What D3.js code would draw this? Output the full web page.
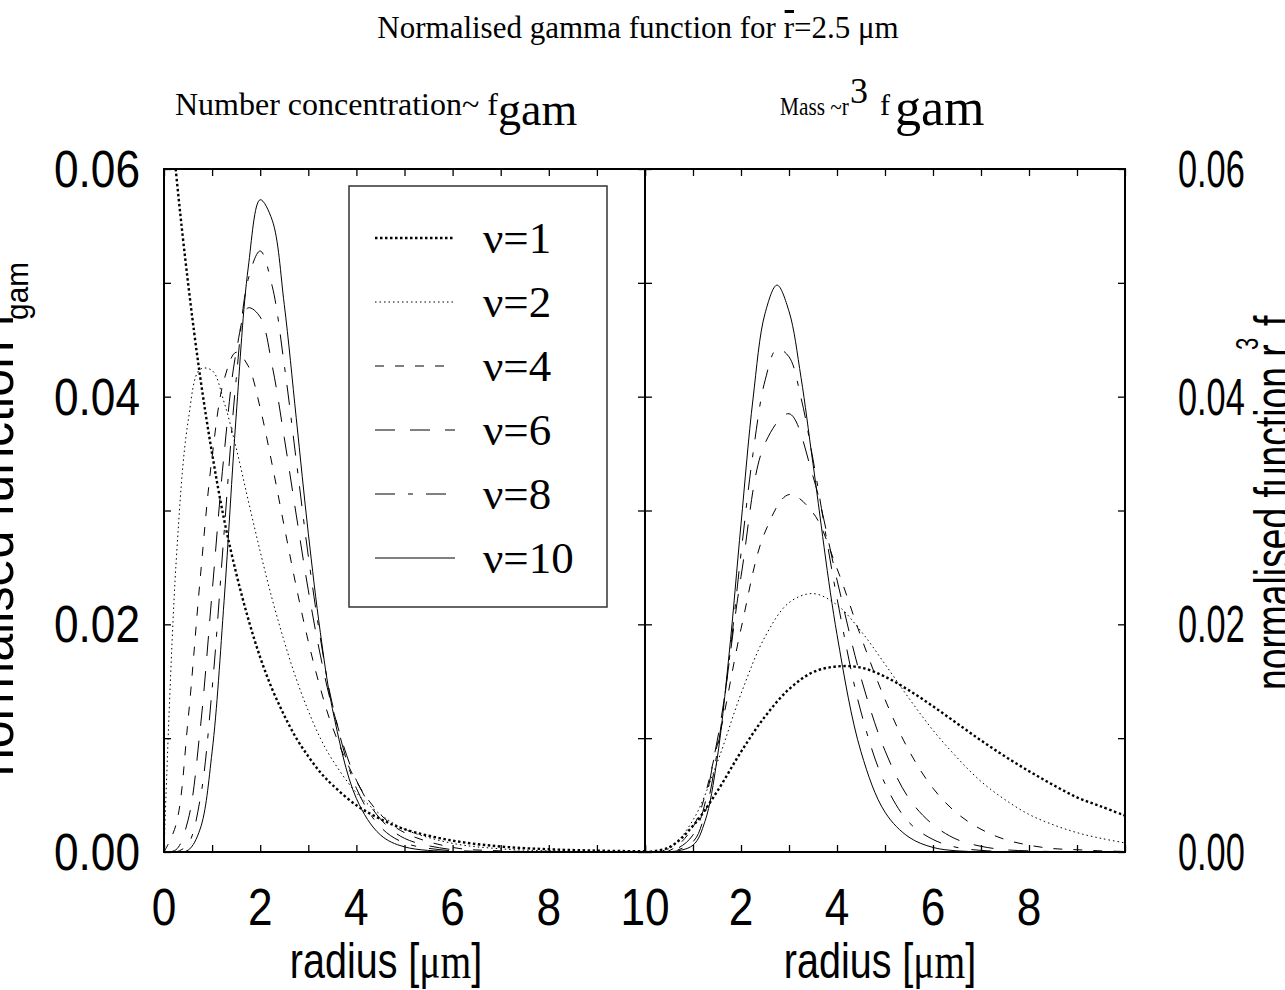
<!DOCTYPE html>
<html>
<head>
<meta charset="utf-8">
<script src="https://cdn.jsdelivr.net/npm/d3@7"></script>
<style>
  body { margin: 0; background: #fff; }
  svg { display: block; }
</style>
</head>
<body>
<div id="chart"></div>
<script>
// values
const nuLabels = ["ν=1", "ν=2", "ν=4", "ν=6", "ν=8", "ν=10"];

const radiusNumber = [0, 0.25, 0.5, 0.75, 1, 1.25, 1.5, 1.75, 2, 2.25, 2.5, 2.75, 3, 3.25, 3.5, 4, 4.5, 5, 6, 7, 8, 9, 10];
const numberNu1 = [0.0714, 0.0597, 0.0500, 0.0418, 0.0350, 0.0292, 0.0245, 0.0205, 0.0171, 0.0143, 0.0120, 0.0100, 0.0084, 0.0070, 0.0059, 0.0041, 0.0029, 0.0020, 0.0010, 0.00048, 0.00024, 0.00012, 0.00006];
const numberNu2 = [0, 0.0253, 0.0378, 0.0424, 0.0423, 0.0395, 0.0355, 0.0309, 0.0264, 0.0222, 0.0185, 0.0152, 0.0124, 0.0100, 0.0081, 0.0052, 0.0033, 0.0020, 0.00076, 0.00028, 0.0001, 0.00003, 0.00001];
const numberNu4 = [0, 0.0024, 0.0116, 0.0239, 0.0347, 0.0415, 0.0439, 0.0427, 0.0390, 0.0340, 0.0286, 0.0233, 0.0185, 0.0144, 0.0110, 0.0062, 0.0033, 0.0017, 0.0004, 0.0001, 0.00002, 0, 0];
const numberNu6 = [0, 0.0002, 0.0028, 0.0107, 0.0228, 0.0350, 0.0439, 0.0478, 0.0470, 0.0427, 0.0364, 0.0296, 0.0230, 0.0173, 0.0127, 0.0063, 0.0029, 0.0012, 0.0002, 0.00003, 0, 0, 0];
const numberNu8 = [0, 0, 0.0007, 0.0046, 0.0143, 0.0281, 0.0415, 0.0503, 0.0528, 0.0497, 0.0428, 0.0344, 0.0260, 0.0188, 0.0130, 0.0056, 0.0022, 0.0008, 0.0001, 0.00001, 0, 0, 0];
const numberNu10 = [0, 0, 0.00015, 0.0020, 0.0088, 0.0221, 0.0383, 0.0513, 0.0573, 0.0555, 0.0481, 0.0381, 0.0280, 0.0193, 0.0126, 0.0047, 0.0015, 0.00045, 0.00003, 0, 0, 0, 0];

const radiusMass = [0, 0.5, 1, 1.5, 2, 2.5, 3, 3.5, 4, 4.5, 5, 5.5, 6, 6.5, 7, 7.5, 8, 8.5, 9, 9.5, 10];
const massNu1 = [0, 0.0004, 0.0023, 0.0053, 0.0088, 0.0119, 0.0143, 0.0158, 0.0163, 0.0162, 0.0154, 0.0142, 0.0128, 0.0113, 0.0098, 0.0084, 0.0071, 0.0059, 0.0048, 0.0040, 0.0032];
const massNu2 = [0, 0.0003, 0.0028, 0.0078, 0.0139, 0.0189, 0.0219, 0.0227, 0.0217, 0.0194, 0.0165, 0.0135, 0.0107, 0.0083, 0.0062, 0.0046, 0.0033, 0.0024, 0.0017, 0.0012, 0.0008];
const massNu4 = [0, 0.0001, 0.0022, 0.0093, 0.0196, 0.0281, 0.0314, 0.0298, 0.0249, 0.0189, 0.0134, 0.0089, 0.0056, 0.0034, 0.0020, 0.0011, 0.0006, 0.0003, 0.0002, 0.0001, 0.00005];
const massNu6 = [0, 0.00002, 0.0015, 0.0097, 0.0242, 0.0359, 0.0385, 0.0330, 0.0239, 0.0153, 0.0089, 0.0047, 0.0024, 0.0011, 0.0005, 0.0002, 0.0001, 0.00004, 0.00002, 0, 0];

const radiusMassFine = [0, 0.5, 1, 1.25, 1.5, 1.75, 2, 2.25, 2.5, 2.75, 3, 3.25, 3.5, 4, 4.5, 5, 5.5, 6, 6.5, 7, 7.5, 8, 9, 10];
const massNu8 = [0, 0, 0.0009, 0.0034, 0.0087, 0.0167, 0.0262, 0.0350, 0.0414, 0.0442, 0.0435, 0.0399, 0.0345, 0.0223, 0.0123, 0.0060, 0.0026, 0.0011, 0.0004, 0.00014, 0.00005, 0.00002, 0, 0];
const massNu10 = [0, 0, 0.0006, 0.0027, 0.0081, 0.0173, 0.0288, 0.0398, 0.0473, 0.0498, 0.0475, 0.0417, 0.0341, 0.0191, 0.0088, 0.0035, 0.0013, 0.0004, 0.0001, 0.00003, 0.00001, 0, 0, 0];

const xTicksLeft = [0, 2, 4, 6, 8, 10];
const xTicksRight = [2, 4, 6, 8];
const yTicks = [0, 0.02, 0.04, 0.06];

// line look for each nu, same order as nuLabels
const lineStyles = [
  { width: 2.4, dash: "2.5,2.5" },
  { width: 1, dash: "1.5,3" },
  { width: 1, dash: "9,11" },
  { width: 1, dash: "20,15" },
  { width: 1, dash: "20,13,5,13" },
  { width: 1, dash: null }
];

const numberSeries = [numberNu1, numberNu2, numberNu4, numberNu6, numberNu8, numberNu10]
  .map(v => v.map((d, i) => [radiusNumber[i], d]));
const massSeries = [
  massNu1.map((d, i) => [radiusMass[i], d]),
  massNu2.map((d, i) => [radiusMass[i], d]),
  massNu4.map((d, i) => [radiusMass[i], d]),
  massNu6.map((d, i) => [radiusMass[i], d]),
  massNu8.map((d, i) => [radiusMassFine[i], d]),
  massNu10.map((d, i) => [radiusMassFine[i], d])
];

const sans = "'Liberation Sans', Arial, sans-serif";
const serif = "'Liberation Serif', 'Times New Roman', serif";
const tickFont = 52;

const width = 1285, height = 990;
const svg = d3.select("#chart").append("svg")
  .attr("width", width)
  .attr("height", height);

const y = d3.scaleLinear().domain([0, 0.06]).range([852, 169]);
const xLeft = d3.scaleLinear().domain([0, 10]).range([164, 645]);
const xRight = d3.scaleLinear().domain([0, 10]).range([645, 1125]);

function drawPanel(x, series, id) {
  svg.append("clipPath").attr("id", id)
    .append("rect")
    .attr("x", x.range()[0]).attr("y", y.range()[1])
    .attr("width", x.range()[1] - x.range()[0])
    .attr("height", y.range()[0] - y.range()[1]);

  const line = d3.line()
    .x(d => x(d[0]))
    .y(d => y(Math.max(0, d[1])))
    .curve(d3.curveCatmullRom.alpha(0.5));

  svg.append("g")
    .attr("clip-path", `url(#${id})`)
    .selectAll("path")
    .data(series)
    .join("path")
    .attr("d", line)
    .attr("fill", "none")
    .attr("stroke", "#000")
    .attr("stroke-width", (d, i) => lineStyles[i].width)
    .attr("stroke-dasharray", (d, i) => lineStyles[i].dash);

  // inward ticks on all four sides
  const xt = d3.range(0, 11);
  const yt = d3.range(0, 0.0601, 0.01);
  const tick = (axis, tx, ty) => {
    const g = svg.append("g").attr("transform", `translate(${tx},${ty})`).call(axis);
    g.select(".domain").remove();
    g.selectAll("line").attr("stroke", "#000").attr("stroke-width", 1.3);
  };
  tick(d3.axisBottom(x).tickValues(xt).tickSize(-7).tickFormat(""), 0, y(0));
  tick(d3.axisTop(x).tickValues(xt).tickSize(-7).tickFormat(""), 0, y(0.06));
  tick(d3.axisLeft(y).tickValues(yt).tickSize(-7).tickFormat(""), x(0), 0);
  tick(d3.axisRight(y).tickValues(yt).tickSize(-7).tickFormat(""), x(10), 0);

  svg.append("rect")
    .attr("x", x(0)).attr("y", y(0.06))
    .attr("width", x(10) - x(0)).attr("height", y(0) - y(0.06))
    .attr("fill", "none")
    .attr("stroke", "#000")
    .attr("stroke-width", 2);
}

drawPanel(xLeft, numberSeries, "clipLeft");
drawPanel(xRight, massSeries, "clipRight");

// tick labels, narrow sans like the original
function tickLabel(tx, ty, str, anchor, sx) {
  svg.append("text")
    .attr("transform", `translate(${tx},${ty}) scale(${sx},1)`)
    .attr("text-anchor", anchor)
    .attr("font-family", sans)
    .attr("font-size", tickFont)
    .text(str);
}
xTicksLeft.forEach(v => tickLabel(xLeft(v), 925, v, "middle", 0.85));
xTicksRight.forEach(v => tickLabel(xRight(v), 925, v, "middle", 0.85));
yTicks.forEach(v => {
  tickLabel(140, y(v) + 18, d3.format(".2f")(v), "end", 0.85);
  tickLabel(1178, y(v) + 18, d3.format(".2f")(v), "start", 0.66);
});

// axis titles
function radiusTitle(cx) {
  const t = svg.append("text")
    .attr("transform", `translate(${cx},978) scale(0.79,1)`)
    .attr("text-anchor", "middle")
    .attr("font-family", sans)
    .attr("font-size", 50);
  t.append("tspan").text("radius [");
  t.append("tspan").attr("font-family", serif).text("μm");
  t.append("tspan").text("]");
}
radiusTitle(386);
radiusTitle(880);

// vertical titles, mostly running off the page edges as in the original
function vText(tx, ty, str, size, sx, anchor) {
  return svg.append("text")
    .attr("transform", `translate(${tx},${ty}) rotate(-90) scale(${sx},1)`)
    .attr("text-anchor", anchor)
    .attr("font-family", sans)
    .attr("font-size", size)
    .text(str);
}
vText(1292, 690, "normalised function r", 54, 0.69, "start");
vText(1258, 350, "3", 32, 0.69, "start");
vText(1292, 326, " f", 54, 0.69, "start");
vText(1322, 300, "gam", 32, 0.69, "start");

vText(13, 313, "normalised function f", 54, 0.93, "end");
vText(28, 262, "gam", 32, 0.93, "end");

// titles
const titleStr = "Normalised gamma function for r=2.5 μm";
const title = svg.append("text")
  .attr("x", 638).attr("y", 38)
  .attr("text-anchor", "middle")
  .attr("font-family", serif)
  .attr("font-size", 31)
  .text(titleStr);
const ri = titleStr.indexOf("r=");
const r0 = title.node().getStartPositionOfChar(ri).x;
const r1 = title.node().getEndPositionOfChar(ri).x;
svg.append("rect")
  .attr("x", r0 + 1).attr("y", 10)
  .attr("width", r1 - r0 - 1).attr("height", 3)
  .attr("fill", "#000");

const subLeft = svg.append("text")
  .attr("x", 175).attr("y", 115)
  .attr("font-family", serif)
  .attr("font-size", 32);
subLeft.append("tspan").text("Number concentration~ f");
subLeft.append("tspan").attr("font-size", 46).attr("dy", 10).text("gam");

function serifText(tx, ty, str, size, sx) {
  svg.append("text")
    .attr("transform", `translate(${tx},${ty}) scale(${sx},1)`)
    .attr("font-family", serif)
    .attr("font-size", size)
    .text(str);
}
serifText(780, 115, "Mass ~r", 26, 0.82);
serifText(850, 103, "3", 36, 1);
serifText(880, 115, "f", 30, 1);
serifText(895, 125, "gam", 52, 1);

// legend
const legend = svg.append("g");
legend.append("rect")
  .attr("x", 349).attr("y", 186)
  .attr("width", 258).attr("height", 421)
  .attr("fill", "#fff")
  .attr("stroke", "#333")
  .attr("stroke-width", 1.5);
const rowY = i => 238 + 64 * i;
legend.selectAll("line")
  .data(nuLabels)
  .join("line")
  .attr("x1", 375).attr("x2", 455)
  .attr("y1", (d, i) => rowY(i)).attr("y2", (d, i) => rowY(i))
  .attr("stroke", "#000")
  .attr("stroke-width", (d, i) => lineStyles[i].width)
  .attr("stroke-dasharray", (d, i) => lineStyles[i].dash);
legend.selectAll("text")
  .data(nuLabels)
  .join("text")
  .attr("x", 483)
  .attr("y", (d, i) => rowY(i) + 15)
  .attr("font-family", serif)
  .attr("font-size", 45)
  .text(d => d);
</script>
</body>
</html>
